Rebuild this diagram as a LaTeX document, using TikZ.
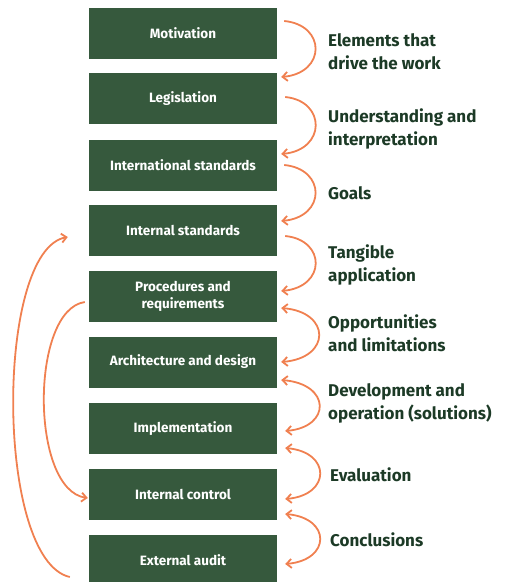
\documentclass[tikz,border=0pt]{standalone}
\usepackage{fontspec}
\setmainfont{Fira Sans}
\usetikzlibrary{arrows.meta}
\definecolor{boxgreen}{RGB}{54,89,61}
\definecolor{labgreen}{RGB}{28,58,38}
\definecolor{arrorange}{RGB}{240,128,80}
\tikzset{
  stagebox/.style={fill=boxgreen, draw=none, minimum width=188pt, minimum height=51pt,
    text=white, font=\bfseries\fontsize{13.5}{17}\selectfont, align=center, inner sep=0pt},
  steplabel/.style={anchor=west, text=labgreen, font=\bfseries\fontsize{17}{23}\selectfont, align=left, inner sep=0pt},
  oarrow/.style={draw=arrorange, line width=1.8pt, -{Straight Barb[length=5pt,width=9pt]}},
  biarrow/.style={draw=arrorange, line width=1.8pt, {Straight Barb[length=5pt,width=9pt]}-{Straight Barb[length=5pt,width=9pt]}},
}
\begin{document}
\begin{tikzpicture}[x=1pt,y=-1pt]
\useasboundingbox (0,0) rectangle (506,582);
\node[stagebox] (b1) at (183,33) {Motivation};
\node[stagebox] (b2) at (183,98.5) {Legislation};
\node[stagebox] (b3) at (183,165) {International standards};
\node[stagebox] (b4) at (183,230.5) {Internal standards};
\node[stagebox] (b5) at (183,296.5) {Procedures and\\requirements};
\node[stagebox] (b6) at (183,362) {Architecture and design};
\node[stagebox] (b7) at (183,428.5) {Implementation};
\node[stagebox] (b8) at (183,494) {Internal control};
\node[stagebox] (b9) at (183,560) {External audit};

\node[steplabel] (l1) at (328,51.5) {Elements that\\drive the work};
\node[steplabel] (l2) at (328,129) {Understanding and\\interpretation};
\node[steplabel] (l3) at (328,193) {Goals};
\node[steplabel] (l4) at (328,264.5) {Tangible\\application};
\node[steplabel] (l5) at (328,333.5) {Opportunities\\and limitations};
\node[steplabel] (l6) at (328,403.5) {Development and\\operation (solutions)};
\node[steplabel] (l7) at (330,475) {Evaluation};
\node[steplabel] (l8) at (330,540) {Conclusions};

\draw[oarrow] ([shift={(7,-12)}]b1.east) .. controls +(42,4) and +(45,-4) .. ([shift={(4,-21.5)}]b2.east);
\draw[oarrow] ([shift={(8,-1.5)}]b2.east) .. controls +(41,4) and +(45,-4) .. ([shift={(4,-11)}]b3.east);
\draw[oarrow] ([shift={(7,0)}]b3.east) .. controls +(42,4) and +(45,-4) .. ([shift={(4,-9.5)}]b4.east);
\draw[oarrow] ([shift={(8,5.5)}]b4.east) .. controls +(41,4) and +(45,-4) .. ([shift={(4,-5.5)}]b5.east);
\draw[biarrow] ([shift={(4,11.5)}]b5.east) .. controls +(50,4) and +(50,-4) .. ([shift={(4,0)}]b6.east);
\draw[biarrow] ([shift={(4,18)}]b6.east) .. controls +(50,4) and +(46,-4) .. ([shift={(8,2.5)}]b7.east);
\draw[biarrow] ([shift={(8,19.5)}]b7.east) .. controls +(46,4) and +(46,-4) .. ([shift={(8,5)}]b8.east);
\draw[biarrow] ([shift={(8,20)}]b8.east) .. controls +(46,4) and +(46,-4) .. ([shift={(8,4)}]b9.east);

\draw[oarrow] ([shift={(-19,17)}]b9.west) .. controls (-5,560) and (-5,250) .. ([shift={(-21,6.5)}]b4.west);
\draw[oarrow] ([shift={(-4,5.5)}]b5.west) .. controls (30,310) and (30,490) .. ([shift={(-1,4)}]b8.west);
\end{tikzpicture}
\end{document}
